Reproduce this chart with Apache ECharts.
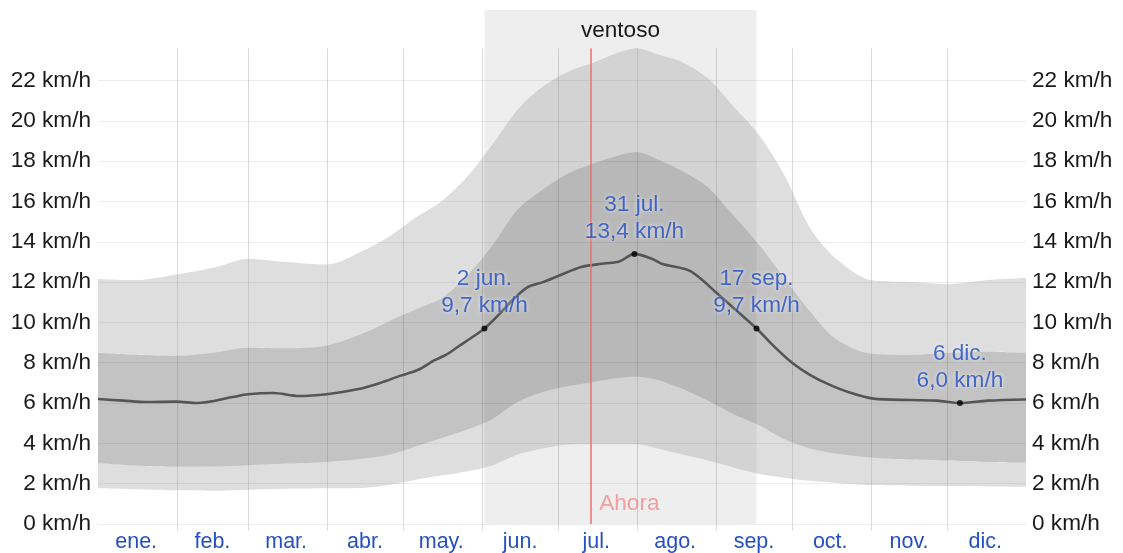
<!DOCTYPE html>
<html>
<head>
<meta charset="utf-8">
<script src="https://cdn.jsdelivr.net/npm/echarts@6/dist/echarts.min.js"></script>
<style>
  html, body { margin: 0; padding: 0; background: #fff; }
  #chart { width: 1123px; height: 553px; }
</style>
</head>
<body>
<div id="chart"></div>
<script>
// axis setup
const monthNames = ['ene.', 'feb.', 'mar.', 'abr.', 'may.', 'jun.', 'jul.', 'ago.', 'sep.', 'oct.', 'nov.', 'dic.']
const monthStarts = [31, 59, 90, 120, 151, 181, 212, 243, 273, 304, 334]
const monthMids = [15, 45, 74, 105, 135, 166, 196, 227, 258, 288, 319, 349]
const yTicks = [0, 2, 4, 6, 8, 10, 12, 14, 16, 18, 20, 22]

// percentile bands (km/h), day of year
const days = [0, 15, 31, 45, 59, 74, 90, 105, 115, 125, 135, 145, 155, 165, 175, 185, 195, 205, 212, 220, 230, 240, 250, 260, 270, 280, 290, 304, 320, 334, 350, 365]
const p90 = [12.16, 12.1, 12.38, 12.7, 13.15, 13.0, 12.87, 13.6, 14.3, 15.2, 16.0, 17.2, 18.8, 20.55, 21.7, 22.45, 22.9, 23.4, 23.6, 23.3, 22.9, 22.1, 20.7, 19.3, 17.3, 14.7, 13.2, 12.1, 12.0, 11.9, 12.1, 12.2]
const p75 = [8.5, 8.4, 8.35, 8.5, 8.75, 8.72, 8.86, 9.5, 10.1, 10.65, 11.2, 12.3, 13.8, 15.6, 16.6, 17.4, 17.9, 18.3, 18.45, 18.1, 17.5, 16.7, 15.3, 13.85, 12.2, 10.55, 9.2, 8.45, 8.4, 8.5, 8.55, 8.5]
const p25 = [3.02, 2.9, 2.84, 2.85, 2.92, 3.0, 3.08, 3.25, 3.45, 3.85, 4.25, 4.67, 5.2, 6.05, 6.55, 6.85, 7.05, 7.25, 7.31, 7.15, 6.7, 6.1, 5.45, 4.9, 4.2, 3.75, 3.5, 3.3, 3.2, 3.15, 3.08, 3.05]
const p10 = [1.77, 1.72, 1.67, 1.65, 1.7, 1.75, 1.77, 1.8, 1.95, 2.2, 2.4, 2.6, 2.9, 3.45, 3.75, 3.95, 3.96, 3.96, 3.96, 3.75, 3.45, 3.15, 2.8, 2.48, 2.3, 2.14, 2.05, 1.93, 1.9, 1.88, 1.86, 1.85]

// median wind speed
const medianDays = [0, 10, 19, 31, 39, 53, 59, 69, 79, 90, 102, 111, 119, 126, 132, 137, 142, 147, 152, 157, 163, 169, 175, 181, 190, 199, 205, 211, 218, 222, 233, 243, 251, 259, 266, 273, 280, 287, 295, 305, 320, 330, 339, 350, 365]
const median = [6.2, 6.12, 6.05, 6.07, 6.0, 6.3, 6.44, 6.5, 6.35, 6.44, 6.68, 7.0, 7.36, 7.65, 8.1, 8.4, 8.83, 9.25, 9.7, 10.3, 11.1, 11.75, 12.0, 12.3, 12.75, 12.92, 13.02, 13.4, 13.15, 12.9, 12.55, 11.5, 10.6, 9.7, 8.8, 8.0, 7.4, 6.95, 6.55, 6.22, 6.15, 6.12, 6.0, 6.12, 6.18]

// annotations
const noteDays = [152, 211, 259, 339]
const noteDates = ['2 jun.', '31 jul.', '17 sep.', '6 dic.']
const noteValues = [9.7, 13.4, 9.7, 6.0]
const windySeason = [152, 259]
const nowDay = 194

const font = '"Liberation Sans", Arial, sans-serif'
const blue = '#2450c2'
const gridTop = 23.6
const yMax = 25.5
const outer = 'rgba(162,162,162,0.353)'
const inner = 'rgba(85,85,85,0.353)'

const chart = echarts.init(document.getElementById('chart'))

const pairs = (xs, ys) => xs.map((d, i) => [d, ys[i]])
const diff = (lo, hi) => days.map((d, i) => [d, +(hi[i] - lo[i]).toFixed(3)])

const band = (name, data, color) => ({
  name,
  type: 'line',
  stack: 'band',
  smooth: 0.3,
  symbol: 'none',
  silent: true,
  lineStyle: { opacity: 0 },
  areaStyle: color ? { color, opacity: 1 } : undefined,
  data,
  z: 2,
})

const yAxisBase = {
  type: 'value',
  min: 0,
  max: yMax,
  interval: 2,
  splitLine: { show: false },
  axisLine: { show: false },
  axisTick: { show: false },
  axisLabel: {
    fontSize: 22.6,
    fontFamily: font,
    color: '#1a1a1a',
    formatter: (v) => (yTicks.includes(v) ? v + ' km/h' : ''),
  },
}

chart.setOption({
  animation: false,
  backgroundColor: '#fff',
  grid: { left: 98, right: 97, top: 10, bottom: 28 },
  xAxis: {
    type: 'category',
    boundaryGap: false,
    data: Array.from({ length: 366 }, (_, i) => i),
    axisLine: { show: false },
    axisTick: {
      show: true,
      length: 7,
      interval: (i) => monthStarts.includes(i),
      lineStyle: { color: 'rgba(0,0,0,0.13)' },
    },
    axisLabel: {
      interval: (i) => monthMids.includes(i),
      formatter: (v, i) => monthNames[monthMids.indexOf(i)] || '',
      fontSize: 21.5,
      fontFamily: font,
      color: blue,
      margin: 7,
    },
    splitLine: { show: false },
  },
  yAxis: [
    Object.assign({}, yAxisBase, { position: 'left', axisLabel: Object.assign({}, yAxisBase.axisLabel, { margin: 7 }) }),
    Object.assign({}, yAxisBase, { position: 'right', axisLabel: Object.assign({}, yAxisBase.axisLabel, { margin: 6 }) }),
  ],
  series: [
    band('p10', pairs(days, p10), null),
    band('p10-p25', diff(p10, p25), outer),
    band('p25-p75', diff(p25, p75), inner),
    band('p75-p90', diff(p75, p90), outer),
    {
      name: 'mediana',
      type: 'line',
      smooth: 0.3,
      symbol: 'none',
      silent: true,
      z: 3,
      lineStyle: { color: '#555', width: 2.6 },
      data: pairs(medianDays, median),
      markArea: {
        silent: true,
        z: 0,
        itemStyle: { color: '#eeeeee' },
        label: {
          show: true,
          position: 'insideTop',
          distance: 9,
          fontSize: 22.6,
          fontFamily: font,
          color: '#1a1a1a',
        },
        data: [[{ name: 'ventoso', coord: [windySeason[0], 0] }, { coord: [windySeason[1], yMax] }]],
      },
      markLine: {
        silent: true,
        z: 1,
        symbol: ['none', 'none'],
        label: { show: false },
        lineStyle: { type: 'solid', width: 1, color: 'rgba(0,0,0,0.14)' },
        data: [
          ...yTicks.map((v) => ({ yAxis: v, lineStyle: { color: 'rgba(0,0,0,0.075)', type: 'solid', width: 1 } })),
          ...monthStarts.map((d) => [{ coord: [d, 0] }, { coord: [d, gridTop] }]),
        ],
      },
    },
    {
      name: 'ahora',
      type: 'scatter',
      silent: true,
      symbolSize: 0,
      z: 6,
      data: [[nowDay, 0]],
      label: {
        show: true,
        position: 'right',
        distance: 5,
        offset: [3, -20],
        formatter: 'Ahora',
        fontSize: 22.6,
        fontFamily: font,
        color: '#f28a8a',
      },
      markLine: {
        silent: true,
        symbol: ['none', 'none'],
        label: { show: false },
        lineStyle: { type: 'solid', width: 2, color: 'rgba(238,110,110,0.75)' },
        data: [[{ coord: [nowDay, 0] }, { coord: [nowDay, gridTop] }]],
      },
    },
    {
      name: 'notas',
      type: 'scatter',
      silent: true,
      symbolSize: 6,
      z: 8,
      itemStyle: { color: '#000' },
      data: pairs(noteDays, noteValues),
      label: {
        show: true,
        position: 'top',
        distance: 6,
        fontSize: 22.6,
        lineHeight: 27,
        fontFamily: font,
        color: '#1f4cc4',
        textBorderWidth: 0,
        textShadowColor: 'rgba(255,255,255,0.95)',
        textShadowBlur: 4,
        formatter: (p) => noteDates[p.dataIndex] + '\n' + noteValues[p.dataIndex].toFixed(1).replace('.', ',') + ' km/h',
      },
    },
  ],
})
</script>
</body>
</html>
